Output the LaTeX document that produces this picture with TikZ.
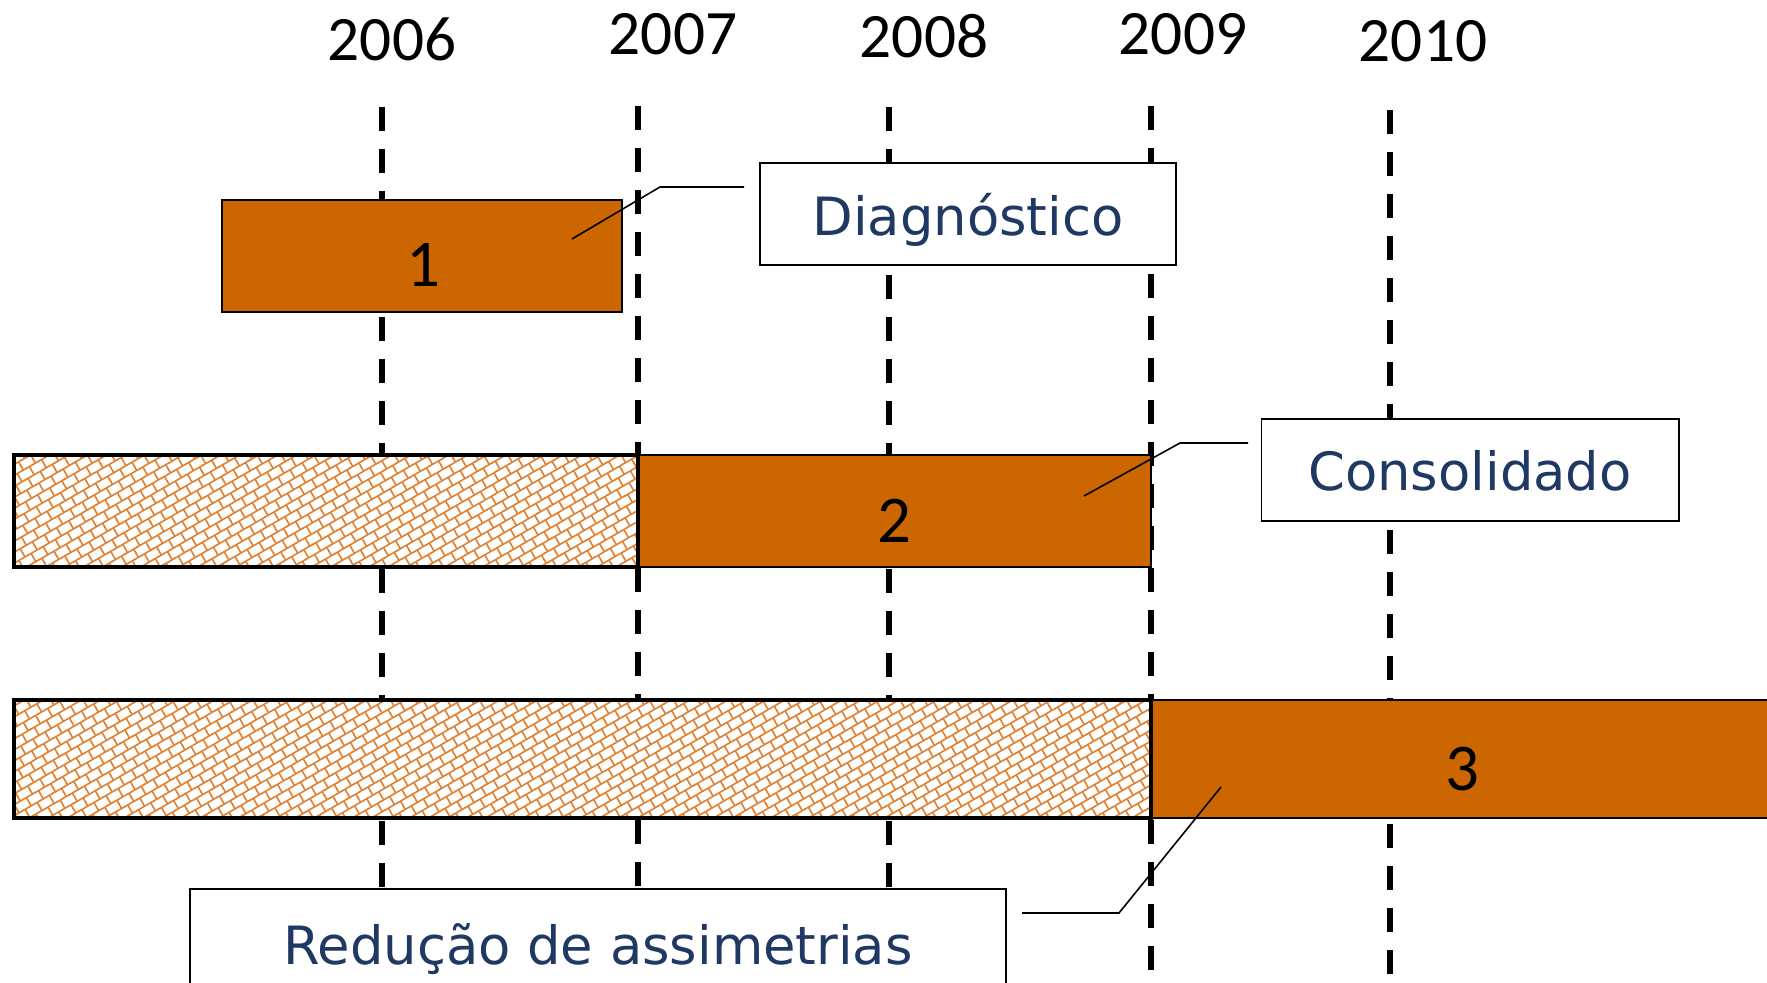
\documentclass[tikz,border=0pt]{standalone}
\usepackage{fontspec}
\setmainfont{DejaVu Sans}
\newfontfamily\yearfont{Carlito}
\usetikzlibrary{patterns.meta}

\definecolor{barorange}{RGB}{204,102,0}
\definecolor{hatchorange}{RGB}{224,128,48}
\definecolor{labelblue}{RGB}{31,56,100}

\pgfdeclarepattern{
	name=bricks, type=uncolored,
	bottom left={\pgfpoint{-0.01cm}{-0.01cm}}, top right={\pgfpoint{0.15cm}{0.20cm}},
	tile size={\pgfpoint{0.14cm}{0.19cm}},
	tile transformation={\pgftransformrotate{30}},
	code={
		\pgfsetlinewidth{0.45pt}
		\pgfpathmoveto{\pgfpoint{-0.005cm}{0.0475cm}}\pgfpathlineto{\pgfpoint{0.145cm}{0.0475cm}}
		\pgfpathmoveto{\pgfpoint{-0.005cm}{0.1425cm}}\pgfpathlineto{\pgfpoint{0.145cm}{0.1425cm}}
		\pgfpathmoveto{\pgfpoint{0.035cm}{0.0475cm}}\pgfpathlineto{\pgfpoint{0.035cm}{0.1425cm}}
		\pgfpathmoveto{\pgfpoint{0.105cm}{0.1425cm}}\pgfpathlineto{\pgfpoint{0.105cm}{0.195cm}}
		\pgfpathmoveto{\pgfpoint{0.105cm}{-0.005cm}}\pgfpathlineto{\pgfpoint{0.105cm}{0.0475cm}}
		\pgfusepath{stroke}
	}
}

\tikzset{
	year/.style={font=\yearfont\fontsize{18}{20}\selectfont},
	yearline/.style={line width=1.7pt,dash pattern=on 0.24cm off 0.18cm},
	bar/.style={draw=black,line width=0.5pt,fill=barorange,inner sep=0pt},
	past/.style={draw=black,line width=1.2pt,preaction={fill=white},pattern=bricks,pattern color=hatchorange,inner sep=0pt},
	num/.style={font=\yearfont\fontsize{19}{21}\selectfont},
	phase/.style={draw=black,line width=0.5pt,fill=white,text=labelblue,font=\fontsize{15}{18}\selectfont,text depth=0pt,inner sep=0pt},
	callout/.style={line width=0.45pt}
}

\begin{document}
\begin{tikzpicture}[x=0.01cm,y=-0.01cm]
	\useasboundingbox (0,0) rectangle (1767,983);
	%Jahre
	\foreach \yr/\tx/\ty/\lx/\lt in {2006/392/39/382/107,2007/673/34/638/106,2008/924/36/889/107,2009/1183/34/1151/106,2010/1423/41/1390/110}{
		\node[year] (y\yr) at (\tx,\ty) {\yr};
		\coordinate (t\yr) at (\lx,\lt); \coordinate (b\yr) at (\lx,974);
		\draw[yearline] (t\yr) -- (b\yr);
	}
	
	\node[bar,minimum width=4cm,minimum height=1.12cm] (bar1) at (422,256) {};
	\node[bar,minimum width=5.13cm,minimum height=1.12cm] (bar2) at (894.5,511) {};
	\node[past,minimum width=6.24cm,minimum height=1.12cm] (old2) at (326,511) {};
	\node[bar,minimum width=6.29cm,minimum height=1.18cm] (bar3) at (1465.5,759) {};
	\node[past,minimum width=11.37cm,minimum height=1.18cm] (old3) at (582.5,759) {};
	\node[num] (n1) at (423,265) {1}; \node[num] (n2) at (894,521) {2}; \node[num] (n3) at (1462,769) {3};
	
	\node[phase,minimum width=4.16cm,minimum height=1.02cm] (diag) at (968,214) {Diagnóstico};
	\node[phase,minimum width=4.17cm,minimum height=1.02cm] (cons) at (1470,470) {Consolidado};
	\node[phase,minimum width=8.16cm,minimum height=1.10cm] (red) at (598,944) {Redução de assimetrias};
	
	\coordinate (p1) at (572,239); \coordinate (k1) at (660,187); \coordinate (e1) at (744,187);
	\coordinate (p2) at (1084,496); \coordinate (k2) at (1180,443); \coordinate (e2) at (1248,443);
	\coordinate (p3) at (1221,787); \coordinate (k3) at (1119,913); \coordinate (e3) at (1022,913);
	\draw[callout] (p1) -- (k1) -- (e1); \draw[callout] (p2) -- (k2) -- (e2); \draw[callout] (p3) -- (k3) -- (e3);
\end{tikzpicture}
\end{document}
